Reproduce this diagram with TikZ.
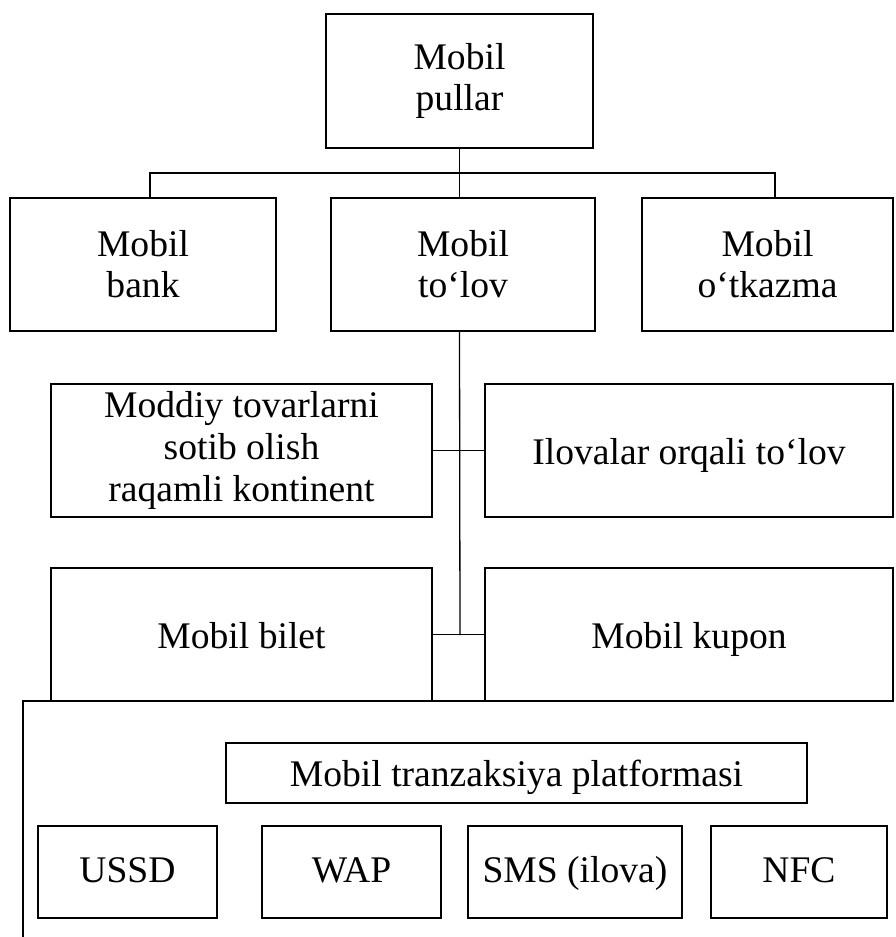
\documentclass[tikz,border=0pt]{standalone}
\usepackage{fontspec}
\setmainfont{Liberation Serif}
\tikzset{
  blok/.style={draw, line width=0.65pt, align=center, inner sep=0pt,
    font=\fontsize{18.8}{20.5}\selectfont},
  yakka/.style={blok, text height=14pt, text depth=0pt},
  ulagich/.style={line width=0.65pt}
}
\begin{document}
\begin{tikzpicture}[x=0.5pt, y=-0.5pt, line join=miter]
			\useasboundingbox (0,0) rectangle (895,937);
			% yuqori daraja
			\node[blok, minimum width=133.5pt, minimum height=67pt] (pullar) at (459.5,81) {Mobil\\pullar};
			\node[blok, minimum width=133pt, minimum height=66.5pt] (bank) at (143,264.5) {Mobil\\bank};
			\node[blok, minimum width=132pt, minimum height=66.5pt] (tolov) at (463,264.5) {Mobil\\to‘lov};
			\node[blok, minimum width=125.5pt, minimum height=66.5pt] (otkazma) at (767.5,264.5) {Mobil\\o‘tkazma};
			% to'lov turlari
			\node[blok, minimum width=190.5pt, minimum height=66.5pt, font=\fontsize{18.8}{21}\selectfont] (moddiy) at (241.5,450.5) {Moddiy tovarlarni\\sotib olish\\raqamli kontinent};
			\node[yakka, minimum width=204pt, minimum height=66.5pt] (ilova) at (689,450.5) {Ilovalar orqali to‘lov};
			\node[yakka, minimum width=190.5pt, minimum height=66.5pt] (bilet) at (241.5,634.5) {Mobil bilet};
			\node[yakka, minimum width=204pt, minimum height=66.5pt] (kupon) at (689,634.5) {Mobil kupon};
			% platforma
			\node[yakka, minimum width=290.5pt, minimum height=30pt, text height=13pt] (platforma) at (516.5,773) {Mobil tranzaksiya platformasi};
			\foreach \nom/\matn/\x/\w in {ussd/USSD/127.5/89.5, wap/WAP/351.5/89.5, sms/SMS (ilova)/575/107, nfc/NFC/799/88}
				\node[yakka, minimum width=\w pt, minimum height=46pt, text height=10pt] (\nom) at (\x,872) {\matn};
			% ulagichlar
			\coordinate (busL) at (150,173);
			\coordinate (busR) at (775,173);
			\coordinate (tugun) at (460,635);
			\coordinate (ramka) at (23,701);
			\draw[ulagich] (pullar.south) -- (pullar.south |- tolov.north);
			\draw[ulagich] (busL |- bank.north) -- (busL) -- (busR) -- (busR |- otkazma.north);
			\draw[ulagich] (pullar.south |- tolov.south) -- (tugun);
			\draw[ulagich] (moddiy.east) -- (ilova.west);
			\draw[ulagich] (bilet.east) -- (kupon.west);
			\draw[ulagich] (ramka |- 0,937) -- (ramka) -- (ramka -| kupon.east);
		\end{tikzpicture}
\end{document}
